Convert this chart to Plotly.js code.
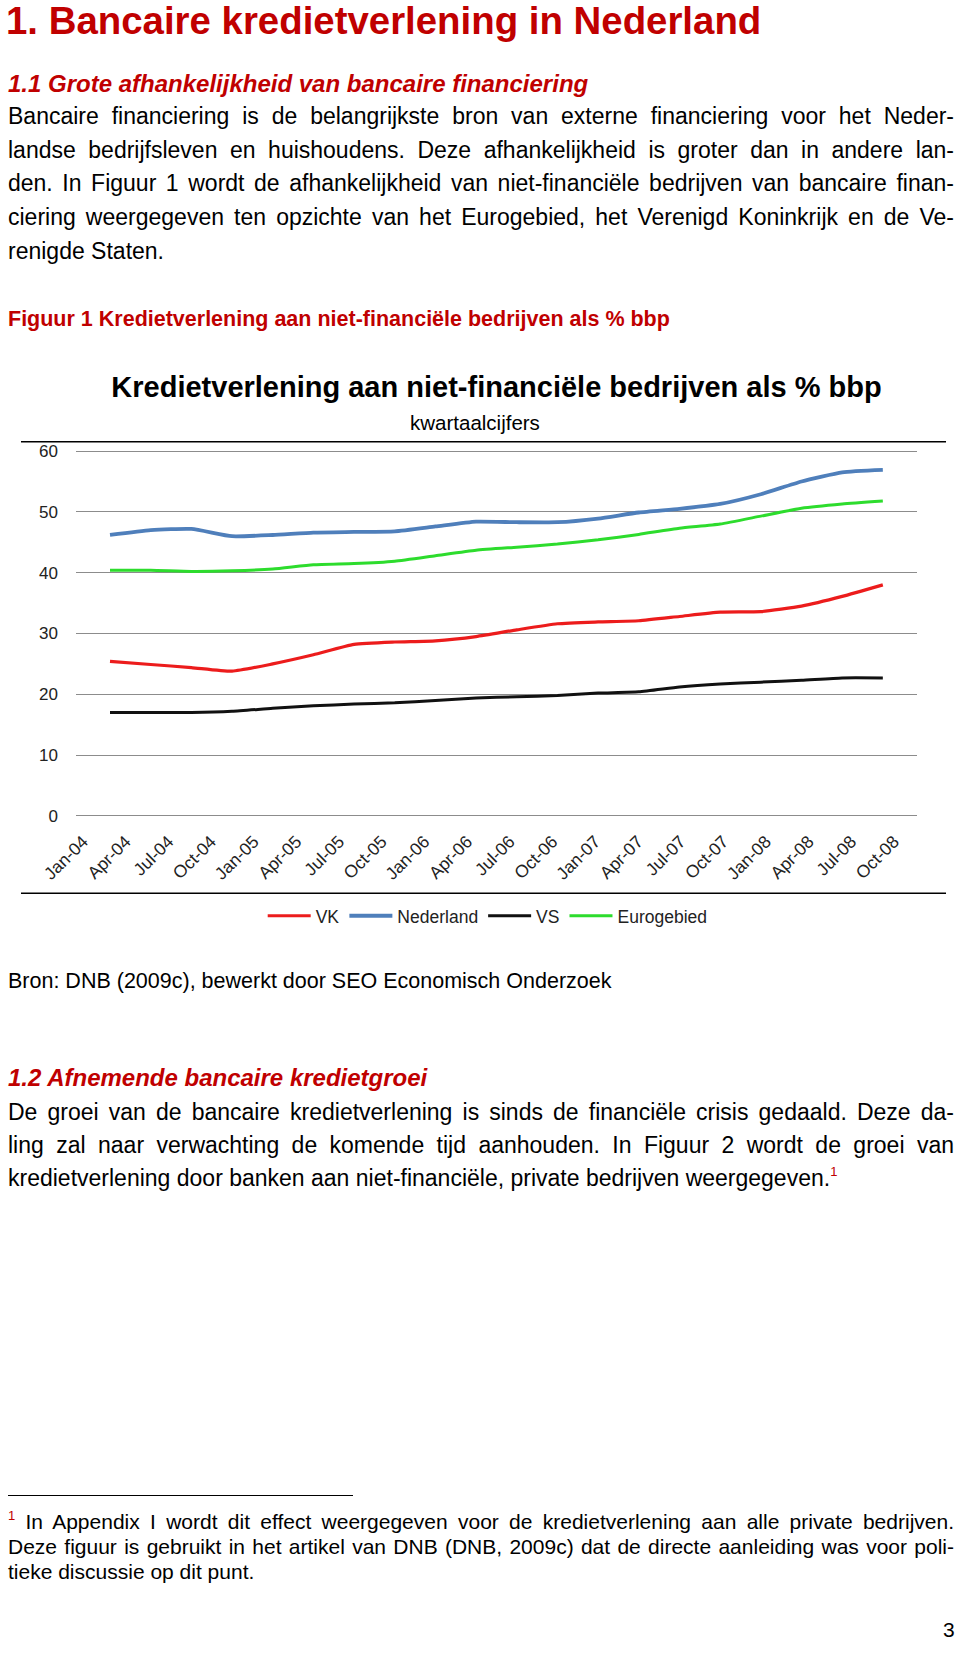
<!DOCTYPE html>
<html>
<head>
<meta charset="utf-8">
<script src="https://cdn.plot.ly/plotly-3.0.1.min.js"></script>
<style>
html,body{margin:0;padding:0;background:#fff;}
#page{position:relative;width:960px;height:1653px;overflow:hidden;font-family:"Liberation Sans",Arial,Helvetica,sans-serif;color:#000;}
.s{position:absolute;left:8px;white-space:nowrap;line-height:1.2;}
.red{color:#c00000;}
.h1{font-size:38.4px;font-weight:bold;left:6px;}
.h2{font-size:24px;font-weight:bold;font-style:italic;}
.cap{font-size:21.5px;font-weight:bold;}
.par{position:absolute;left:8px;width:946px;font-size:23px;}
.par div{text-align:justify;text-align-last:justify;white-space:normal;}
.par div.last{text-align:left;text-align-last:left;}
.fn{position:absolute;left:8px;width:946px;font-size:21px;line-height:24.8px;}
.fn div{height:24.8px;text-align:justify;text-align-last:justify;}
.fn div.last{text-align:left;text-align-last:left;}
.sup{color:#c00000;font-size:13px;position:relative;top:-10px;}
#chart{position:absolute;left:0;top:340px;width:960px;height:600px;}
</style>
</head>
<body>
<div id="page">
  <div class="s h1 red" style="top:-2.5px;">1. Bancaire kredietverlening in Nederland</div>
  <div class="s h2 red" style="top:69.8px;">1.1 Grote afhankelijkheid van bancaire financiering</div>
  <div class="par" style="top:100.2px;line-height:33.6px;">
    <div>Bancaire financiering is de belangrijkste bron van externe financiering voor het Neder-</div>
    <div>landse bedrijfsleven en huishoudens. Deze afhankelijkheid is groter dan in andere lan-</div>
    <div>den. In Figuur 1 wordt de afhankelijkheid van niet-financiële bedrijven van bancaire finan-</div>
    <div>ciering weergegeven ten opzichte van het Eurogebied, het Verenigd Koninkrijk en de Ve-</div>
    <div class="last">renigde Staten.</div>
  </div>
  <div class="s cap red" style="top:306.6px;">Figuur 1 Kredietverlening aan niet-financiële bedrijven als % bbp</div>

  <div id="chart"></div>

  <div class="s" style="top:968.9px;font-size:21.5px;">Bron: DNB (2009c), bewerkt door SEO Economisch Onderzoek</div>
  <div class="s h2 red" style="top:1064.3px;">1.2 Afnemende bancaire kredietgroei</div>
  <div class="par" style="top:1095.5px;line-height:33.4px;">
    <div>De groei van de bancaire kredietverlening is sinds de financiële crisis gedaald. Deze da-</div>
    <div>ling zal naar verwachting de komende tijd aanhouden. In Figuur 2 wordt de groei van</div>
    <div class="last">kredietverlening door banken aan niet-financiële, private bedrijven weergegeven.<span class="sup">1</span></div>
  </div>

  <div style="position:absolute;left:8px;top:1495px;width:345px;height:1.4px;background:#000;"></div>
  <div class="fn" style="top:1510px;">
    <div><span class="sup" style="top:-9px;">1</span> In Appendix I wordt dit effect weergegeven voor de kredietverlening aan alle private bedrijven.</div>
    <div>Deze figuur is gebruikt in het artikel van DNB (DNB, 2009c) dat de directe aanleiding was voor poli-</div>
    <div class="last">tieke discussie op dit punt.</div>
  </div>
  <div class="s" style="left:943px;top:1617px;font-size:21px;">3</div>
</div>

<script>
// ---- data ----
const quarters = ['Jan-04','Apr-04','Jul-04','Oct-04','Jan-05','Apr-05','Jul-05','Oct-05','Jan-06','Apr-06',
                  'Jul-06','Oct-06','Jan-07','Apr-07','Jul-07','Oct-07','Jan-08','Apr-08','Jul-08','Oct-08'];
const vk        = [25.4, 24.9, 24.4, 23.8, 25.0, 26.5, 28.2, 28.6, 28.8, 29.5, 30.6, 31.6, 31.9, 32.1, 32.8, 33.5, 33.6, 34.5, 36.1, 38.0];
const nederland = [46.2, 47.0, 47.2, 46.0, 46.2, 46.6, 46.7, 46.8, 47.6, 48.4, 48.3, 48.3, 48.9, 49.9, 50.5, 51.3, 52.9, 55.0, 56.5, 56.9];
const vs        = [17.0, 17.0, 17.0, 17.2, 17.7, 18.1, 18.4, 18.6, 19.0, 19.4, 19.6, 19.8, 20.2, 20.4, 21.2, 21.7, 22.0, 22.3, 22.7, 22.7];
const eurogebied= [40.4, 40.4, 40.2, 40.3, 40.6, 41.3, 41.5, 41.9, 42.8, 43.7, 44.2, 44.7, 45.4, 46.3, 47.3, 48.0, 49.3, 50.6, 51.3, 51.8];
const seriesNames = ['VK', 'Nederland', 'VS', 'Eurogebied'];
const yTicks = [0, 10, 20, 30, 40, 50, 60];

const chartTitle = 'Kredietverlening aan niet-financiële bedrijven als % bbp';
const chartSubtitle = 'kwartaalcijfers';

const FONT = '"Liberation Sans", Arial, Helvetica, sans-serif';

function mk(name, y, color, width) {
  return {
    type: 'scatter', mode: 'lines', name: name,
    x: quarters, y: y, xaxis: 'x2', yaxis: 'y',
    line: {color: color, width: width, shape: 'spline', smoothing: 0.5},
    hoverinfo: 'x+y+name'
  };
}

// category axis that carries the quarter labels (as spaced in the original image)
const labelAxisTrace = {
  type: 'scatter', mode: 'lines', x: quarters, y: quarters.map(() => null),
  xaxis: 'x', yaxis: 'y', showlegend: false, hoverinfo: 'skip'
};

const data = [
  labelAxisTrace,
  mk(seriesNames[0], vk, '#ec1c1c', 3.2),
  mk(seriesNames[1], nederland, '#4f7fbb', 3.8),
  mk(seriesNames[2], vs, '#111111', 3.0),
  mk(seriesNames[3], eurogebied, '#2ddc2d', 3.0)
];

const layout = {
  width: 960, height: 600,
  paper_bgcolor: '#ffffff', plot_bgcolor: 'rgba(0,0,0,0)',
  margin: {l: 76, r: 43, t: 105, b: 118, autoexpand: false},
  font: {family: FONT, color: '#222'},
  title: {
    text: chartTitle,
    font: {family: FONT, size: 29, color: '#000', weight: 'bold'},
    xref: 'paper', x: 0.5, xanchor: 'center',
    yref: 'container', y: 1 - 36.7/600, yanchor: 'top'
  },
  showlegend: true,
  legend: {
    orientation: 'h', x: 0.222, xanchor: 'left', y: -0.249, yanchor: 'middle',
    font: {family: FONT, size: 17.5, color: '#222'},
    itemwidth: 43, bgcolor: 'rgba(0,0,0,0)', traceorder: 'normal'
  },
  xaxis: {
    type: 'category',
    range: [-0.164, 19.54],
    tickangle: -45,
    tickfont: {family: FONT, size: 17.5, color: '#222'},
    ticks: '', showgrid: false, zeroline: false, showline: false,
    ticklabelstandoff: 5,
    fixedrange: true
  },
  xaxis2: {
    type: 'category',
    overlaying: 'x', anchor: 'y',
    range: [-0.836, 19.84],
    visible: false, showgrid: false, zeroline: false,
    fixedrange: true
  },
  yaxis: {
    range: [-1, 61],
    tickmode: 'array', tickvals: yTicks,
    tickfont: {family: FONT, size: 17, color: '#222'},
    ticks: '', showline: false, zeroline: false,
    showgrid: true, gridcolor: '#8c8c8c', gridwidth: 1.2,
    ticklabelstandoff: 17,
    fixedrange: true
  },
  annotations: [{
    text: chartSubtitle, showarrow: false,
    xref: 'paper', x: (474.5 - 76) / 841, xanchor: 'center',
    yref: 'paper', y: 1.061, yanchor: 'middle',
    font: {family: FONT, size: 20.5, color: '#000'}
  }],
  shapes: [
    {type: 'line', xref: 'paper', yref: 'paper', x0: -0.0654, x1: 1.0345, y0: 1.0088, y1: 1.0088,
     line: {color: '#000', width: 1.6}},
    {type: 'line', xref: 'paper', yref: 'paper', x0: -0.0654, x1: 1.0345, y0: -0.1891, y1: -0.1891,
     line: {color: '#000', width: 1.6}}
  ]
};

Plotly.newPlot('chart', data, layout, {displayModeBar: false, responsive: false});
</script>
</body>
</html>
